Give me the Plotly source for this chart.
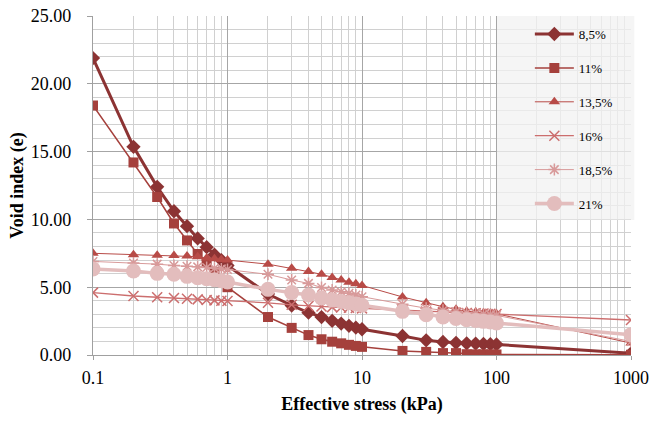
import plotly.graph_objects as go

stress = [0.1, 0.2, 0.3, 0.4, 0.5, 0.6, 0.7, 0.8, 0.9, 1, 2, 3, 4, 5, 6, 7, 8, 9, 10,
          20, 30, 40, 50, 60, 70, 80, 90, 100, 1000]

e_85 = [21.9, 15.35, 12.4, 10.6, 9.5, 8.6, 7.95, 7.4, 7.0, 6.6, 4.5, 3.65, 3.12, 2.8, 2.52,
        2.32, 2.15, 2.02, 1.9, 1.4, 1.08, 0.96, 0.9, 0.86, 0.84, 0.82, 0.8, 0.78, 0.12]
e_11 = [18.4, 14.2, 11.65, 9.7, 8.45, 7.45, 6.8, 6.1, 5.5, 5.0, 2.8, 2.0, 1.47, 1.16, 0.98,
        0.86, 0.75, 0.67, 0.6, 0.3, 0.23, 0.14, 0.14, 0.06, 0.05, 0.05, 0.04, 0.04, 0.02]
e_135 = [7.5, 7.4, 7.35, 7.33, 7.3, 7.25, 7.15, 7.1, 7.05, 7.0, 6.7, 6.4, 6.15, 5.95, 5.72,
         5.53, 5.37, 5.26, 5.13, 4.28, 3.85, 3.56, 3.37, 3.22, 3.17, 3.12, 3.08, 3.04, 0.88]
e_16 = [4.6, 4.35, 4.26, 4.2, 4.15, 4.1, 4.06, 4.03, 4.0, 3.98, 3.85, 3.7, 3.62, 3.57, 3.53,
        3.5, 3.48, 3.46, 3.44, 3.3, 3.2, 3.15, 3.12, 3.1, 3.08, 3.06, 3.04, 3.02, 2.58]
e_185 = [6.9, 6.78, 6.7, 6.6, 6.55, 6.5, 6.45, 6.4, 6.35, 6.3, 5.95, 5.53, 5.28, 4.98, 4.8,
         4.67, 4.55, 4.43, 4.3, 3.75, 3.45, 3.3, 3.2, 3.12, 3.06, 3.0, 2.96, 2.92, 1.0]
e_21 = [6.35, 6.2, 6.02, 5.95, 5.8, 5.7, 5.62, 5.55, 5.48, 5.38, 4.84, 4.6, 4.42, 4.2, 4.06,
        3.94, 3.86, 3.77, 3.67, 3.22, 2.97, 2.8, 2.7, 2.6, 2.54, 2.48, 2.43, 2.36, 1.5]

names = ["8,5%", "11%", "13,5%", "16%", "18,5%", "21%"]
series = [e_85, e_11, e_135, e_16, e_185, e_21]
colors = ["#8c3333", "#a5403c", "#b84b47", "#cc6e6e", "#d89a9a", "#e3bdbd"]
symbols = ["diamond", "square", "triangle-up", "x-thin-open", "asterisk-open", "circle"]
widths = [3, 1.5, 1, 1.3, 1, 3.5]
sizes = [11, 10, 10, 10, 10, 15]

fig = go.Figure()
for i, (nm, ys) in enumerate(zip(names, series)):
    open_sym = symbols[i].endswith("open")
    fig.add_trace(go.Scatter(
        x=stress, y=ys, name=nm, mode="lines+markers",
        legendgroup=nm,
        line=dict(color=colors[i], width=widths[i]),
        marker=dict(symbol=symbols[i], size=sizes[i], color=colors[i],
                    line=dict(color=colors[i], width=1.5 if open_sym else 0)),
    ))

# legend panel (translucent, grid shows through)
fig.add_shape(type="rect", xref="paper", yref="paper",
              x0=0.751, x1=1.006, y0=0.398, y1=1.0,
              fillcolor="rgba(242,242,242,0.75)", line=dict(width=0), layer="above")

fig.update_layout(
    width=651, height=421,
    margin=dict(l=93, r=20, t=16, b=66, autoexpand=False),
    paper_bgcolor="white", plot_bgcolor="white",
    font=dict(family="Liberation Serif", size=18, color="black"),
    showlegend=True,
    legend=dict(x=0.812, y=0.991, xanchor="left", yanchor="top",
                bgcolor="rgba(0,0,0,0)", borderwidth=0,
                font=dict(size=13), tracegroupgap=14, itemwidth=39),
)
fig.update_xaxes(
    type="log", range=[-1, 3], automargin=False,
    tickvals=[0.1, 1, 10, 100, 1000], ticktext=["0.1", "1", "10", "100", "1000"],
    showgrid=True, gridcolor="#a6a6a6", gridwidth=1.3,
    minor=dict(dtick="D1", showgrid=True, gridcolor="#d0d0d0", gridwidth=1),
    showline=True, linecolor="#a0a0a0", linewidth=1.3,
    ticks="outside", ticklen=4, tickcolor="#a0a0a0",
    ticklabelstandoff=2, ticklabeloverflow="allow",
    title=dict(text="<b>Effective stress (kPa)</b>", font=dict(size=18), standoff=10),
    zeroline=False,
)
fig.update_yaxes(
    range=[0, 25], dtick=5, tickformat=".2f", automargin=False,
    showgrid=True, gridcolor="#a6a6a6", gridwidth=1.3,
    minor=dict(dtick=1, showgrid=True, gridcolor="#d0d0d0", gridwidth=1),
    showline=True, linecolor="#a0a0a0", linewidth=1.3,
    ticks="outside", ticklen=5, tickcolor="#a0a0a0",
    ticklabelstandoff=12, ticklabeloverflow="allow",
    title=dict(text="<b>Void index (e)</b>", font=dict(size=18), standoff=2),
    zeroline=False,
)

fig.write_html("out.html", config={"displayModeBar": False},
               post_script="document.body.style.margin='0';")
